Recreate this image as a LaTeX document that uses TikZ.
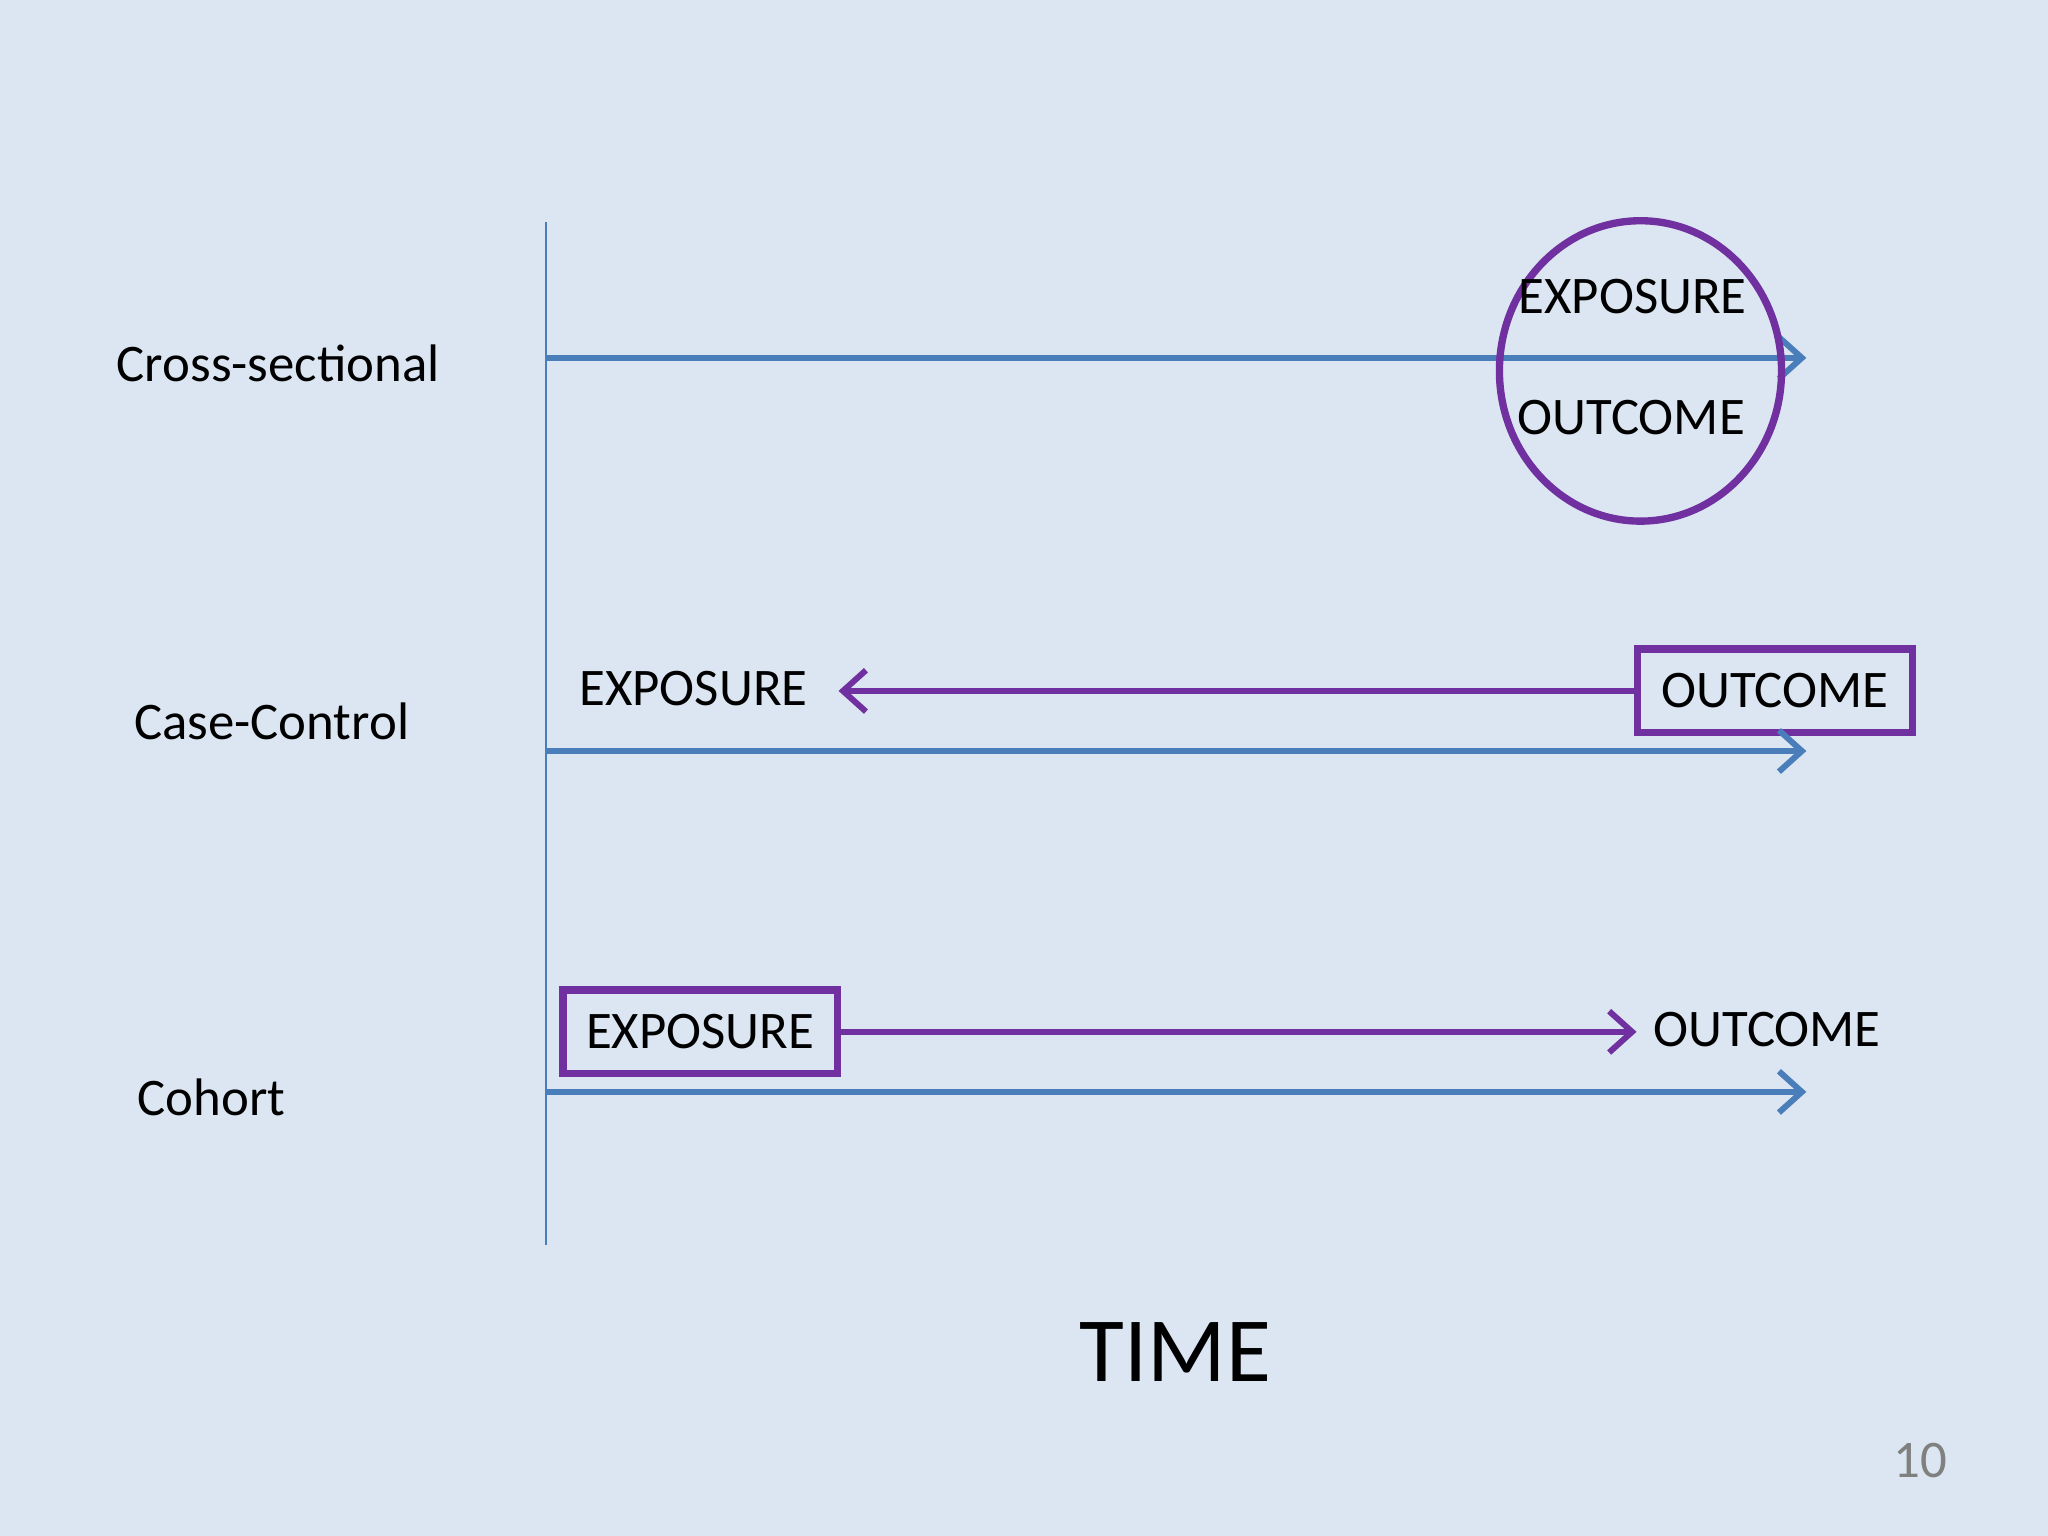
\documentclass[tikz,border=0pt]{standalone}
\usepackage{fontspec}
\setmainfont{Carlito}
\usetikzlibrary{arrows.meta}
\definecolor{bg}{HTML}{DCE6F2}
\definecolor{tl}{HTML}{4A7EBB}
\definecolor{pu}{HTML}{7030A0}
\tikzset{
 tline/.style={draw=tl,line width=1.3pt,-{Straight Barb[length=5pt,width=9pt,line width=1.3pt]}},
 parr/.style={draw=pu,line width=1.3pt,-{Straight Barb[length=5pt,width=9pt,line width=1.3pt]}},
 lbl/.style={font=\fontsize{11.5}{13}\selectfont,inner sep=0pt},
 pbox/.style={draw=pu,line width=1.6pt,minimum width=2.1cm,minimum height=0.64cm,font=\fontsize{11.5}{13}\selectfont}
}
\begin{document}
\begin{tikzpicture}[x=0.01cm,y=-0.01cm]
\fill[bg] (0,0) rectangle (1568,1176);
\draw[tl,line width=0.6pt] (418,170) -- (418,953);
% labels
\node[lbl] (cs) at (213,278) {Cross-sectional};
\node[lbl] (cc) at (208,552) {Case-Control};
\node[lbl] (co) at (162,840) {Cohort};
% cross-sectional
\coordinate (a1) at (418,274); \coordinate (b1) at (1383,274);
\draw[tline] (a1) -- (b1);
\draw[pu,line width=1.6pt] (1256,284) ellipse (108 and 115);
\node[lbl] (e1) at (1250,227) {EXPOSURE};
\node[lbl] (o1) at (1249,320) {OUTCOME};
% case-control
\node[pbox] (o2) at (1359,529) {OUTCOME};
\node[lbl] (e2) at (531,527) {EXPOSURE};
\coordinate (e2r) at (642,529);
\draw[parr] (o2.west) -- (e2r);
\coordinate (a2) at (418,575); \coordinate (b2) at (1383,575);
\draw[tline] (a2) -- (b2);
% cohort
\node[pbox] (e3) at (536,790) {EXPOSURE};
\node[lbl] (o3) at (1353,788) {OUTCOME};
\coordinate (o3l) at (1253,790);
\draw[parr] (e3.east) -- (o3l);
\coordinate (a3) at (418,836); \coordinate (b3) at (1383,836);
\draw[tline] (a3) -- (b3);
% time
\node[font=\fontsize{20}{24}\selectfont,inner sep=0pt] (t) at (900,1035) {TIME};
\node[font=\fontsize{11.5}{13}\selectfont,text=gray,inner sep=0pt] (p) at (1470,1118) {10};
\end{tikzpicture}
\end{document}
